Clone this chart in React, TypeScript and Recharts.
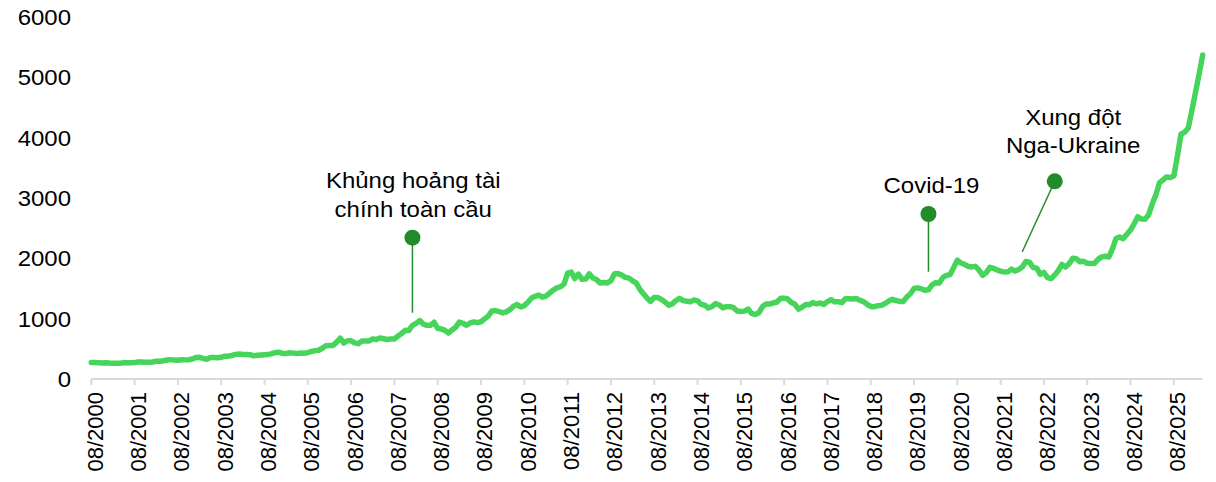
import React from 'react';
import { LineChart, Line, XAxis, YAxis, ReferenceDot, ReferenceLine } from 'recharts';

// Monthly categories 08/2000 .. 04/2026
const startYear = 2000;
const startMonth = 8;
const monthCount = 309;
const months: string[] = [];
for (let i = 0; i < monthCount; i++) {
  const m = ((startMonth - 1 + i) % 12) + 1;
  const y = startYear + Math.floor((startMonth - 1 + i) / 12);
  months.push(`${m < 10 ? '0' + m : m}/${y}`);
}

// Gold price (USD/oz), monthly
const goldPrice: number[] = [
  274, 273, 270, 266, 271,
  265, 262, 263, 260, 272, 270, 268, 272, 283, 283, 276, 276,
  282, 295, 294, 303, 314, 321, 313, 310, 319, 317, 319, 332,
  357, 359, 341, 328, 356, 356, 351, 360, 379, 379, 390, 408,
  414, 405, 407, 403, 384, 392, 398, 401, 405, 421, 439, 442,
  424, 423, 434, 429, 422, 431, 425, 438, 456, 470, 477, 510,
  550, 555, 557, 611, 677, 596, 634, 633, 598, 586, 628, 630,
  631, 665, 655, 679, 667, 656, 665, 665, 713, 755, 806, 803,
  890, 922, 968, 910, 889, 890, 940, 839, 830, 807, 761, 816,
  859, 943, 924, 890, 929, 946, 934, 949, 997, 1043, 1127, 1135,
  1118, 1095, 1113, 1149, 1205, 1233, 1193, 1216, 1271, 1342, 1370, 1391,
  1356, 1373, 1424, 1474, 1510, 1529, 1573, 1756, 1772, 1665, 1739, 1652,
  1656, 1743, 1674, 1650, 1591, 1599, 1590, 1630, 1745, 1747, 1722, 1685,
  1672, 1628, 1593, 1488, 1414, 1343, 1286, 1352, 1349, 1317, 1276, 1222,
  1244, 1301, 1336, 1299, 1289, 1279, 1311, 1296, 1237, 1223, 1176, 1201,
  1251, 1227, 1179, 1199, 1199, 1182, 1128, 1118, 1125, 1159, 1086, 1068,
  1098, 1200, 1245, 1242, 1260, 1276, 1337, 1340, 1327, 1267, 1238, 1157,
  1192, 1234, 1231, 1267, 1246, 1260, 1237, 1283, 1314, 1280, 1282, 1265,
  1331, 1331, 1325, 1335, 1304, 1282, 1238, 1202, 1198, 1215, 1221, 1250,
  1292, 1320, 1301, 1286, 1284, 1359, 1413, 1500, 1511, 1495, 1470, 1479,
  1561, 1597, 1592, 1683, 1716, 1732, 1847, 1969, 1922, 1900, 1866, 1858,
  1867, 1808, 1718, 1760, 1850, 1835, 1808, 1785, 1775, 1776, 1821, 1790,
  1816, 1856, 1948, 1937, 1849, 1837, 1733, 1765, 1681, 1664, 1725, 1798,
  1898, 1854, 1913, 2000, 1992, 1943, 1950, 1919, 1916, 1917, 1983, 2024,
  2034, 2023, 2160, 2332, 2352, 2327, 2399, 2470, 2571, 2690, 2651, 2648,
  2720, 2900, 3050, 3250, 3300, 3350, 3340, 3365, 3700, 4060, 4090, 4160,
  4450, 4750, 5050, 5370,
];

const yTicks: number[] = [0, 1000, 2000, 3000, 4000, 5000, 6000];

// Annotations
const gfcLabel: string[] = ['Khủng hoảng tài', 'chính toàn cầu'];
const covidLabel: string[] = ['Covid-19'];
const ukraineLabel: string[] = ['Xung đột', 'Nga-Ukraine'];

const data = months.map((m, i) => ({ month: m, price: goldPrice[i] }));

const FONT = '"Liberation Sans", Arial, Helvetica, sans-serif';
const LINE_COLOR = '#47D45B';
const DOT_COLOR = '#228B2A';
const AXIS_COLOR = '#D9D9D9';

const XTick = (props: any) => {
  const { x, y, payload } = props;
  return (
    <text
      transform={`translate(${x + 11.4},${y + 5}) rotate(-90)`}
      textAnchor="end"
      fontSize={22}
      fontFamily={FONT}
      fill="#000"
    >
      {payload.value}
    </text>
  );
};

const YTick = (props: any) => {
  const { x, y, payload } = props;
  return (
    <text
      transform={`translate(${x - 20.3},${y + 7.9}) scale(1.09,1)`}
      textAnchor="end"
      fontSize={22}
      fontFamily={FONT}
      fill="#000"
    >
      {payload.value}
    </text>
  );
};

const makeAnnot = (lines: string[], dx: number, firstDy: number) => (props: any) => {
  const { cx, cy } = props;
  return (
    <g>
      <circle cx={cx} cy={cy} r={8} fill={DOT_COLOR} />
      {lines.map((t, k) => (
        <text
          key={k}
          transform={`translate(${cx + dx},${cy + firstDy + k * 28.4}) scale(1.09,1)`}
          textAnchor="middle"
          fontSize={22}
          fontFamily={FONT}
          fill="#000"
        >
          {t}
        </text>
      ))}
    </g>
  );
};

export default function App() {
  return (
    <div style={{ width: 1200, height: 478, marginTop: -8, background: '#fff' }}>
      <LineChart
        width={1200}
        height={478}
        data={data}
        margin={{ top: 17, right: 5.3, bottom: 9, left: 13.3 }}
      >
        <XAxis
          dataKey="month"
          scale="point"
          padding={{ left: 0, right: 0 }}
          interval={11}
          height={90}
          tick={<XTick />}
          tickSize={6}
          tickLine={{ stroke: AXIS_COLOR, strokeWidth: 2 }}
          axisLine={{ stroke: AXIS_COLOR, strokeWidth: 2 }}
        />
        <YAxis
          width={70}
          domain={[0, 6000]}
          ticks={yTicks}
          interval={0}
          axisLine={false}
          tickLine={false}
          tickSize={0}
          tickMargin={0}
          tick={<YTick />}
        />
        <Line
          type="linear"
          dataKey="price"
          stroke={LINE_COLOR}
          strokeWidth={5.5}
          dot={false}
          activeDot={false}
          strokeLinejoin="round"
          strokeLinecap="round"
          isAnimationActive={false}
        />
        <ReferenceLine
          segment={[{ x: '01/2008', y: 2342 }, { x: '01/2008', y: 1099 }]}
          stroke={DOT_COLOR}
          strokeWidth={1.5}
        />
        <ReferenceLine
          segment={[{ x: '12/2019', y: 2735 }, { x: '12/2019', y: 1778 }]}
          stroke={DOT_COLOR}
          strokeWidth={1.5}
        />
        <ReferenceLine
          segment={[{ x: '11/2022', y: 3277 }, { x: '02/2022', y: 2110 }]}
          stroke={DOT_COLOR}
          strokeWidth={1.5}
        />
        <ReferenceDot x="01/2008" y={2342} r={8} shape={makeAnnot(gfcLabel, 0.8, -49.4)} />
        <ReferenceDot x="12/2019" y={2735} r={8} shape={makeAnnot(covidLabel, 3, -20.7)} />
        <ReferenceDot x="11/2022" y={3277} r={8} shape={makeAnnot(ukraineLabel, 18.4, -56.3)} />
      </LineChart>
    </div>
  );
}
